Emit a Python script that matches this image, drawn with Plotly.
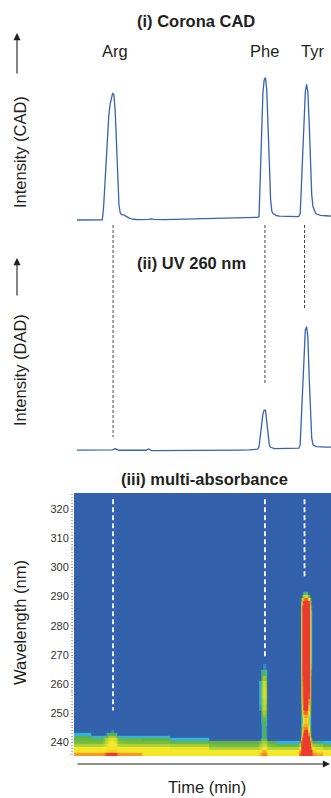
import plotly.graph_objects as go

# ---------------------------------------------------------------------------
# Chromatographic data (relative units, retention time in min)
# ---------------------------------------------------------------------------
time_min = [
    0.12, 0.5, 0.8, 1.0,
    1.05, 1.10, 1.15, 1.20, 1.25, 1.30, 1.35, 1.40, 1.45, 1.50, 1.55, 1.60, 1.65,
    1.70, 1.75, 1.80, 1.85, 1.90, 1.95, 2.00, 2.05, 2.10, 2.15, 2.20, 2.25, 2.30,
    2.5, 2.8, 2.9, 3.0, 3.1, 3.5, 4.0, 4.5, 5.0, 5.5, 6.0, 6.5, 6.8, 7.0, 7.1,
    7.15, 7.20, 7.25, 7.30, 7.35, 7.40, 7.45, 7.50, 7.55, 7.60, 7.65, 7.70, 7.75,
    7.80, 7.85, 7.90,
    8.0, 8.3, 8.5, 8.6, 8.7,
    8.75, 8.80, 8.85, 8.90, 8.95, 9.00, 9.05, 9.10, 9.15, 9.20, 9.25, 9.30, 9.35,
    9.40, 9.45, 9.50, 9.55, 9.60,
    9.8, 10.0,
]

cad_signal = [
    0.013, 0.013, 0.013, 0.013,
    0.013, 0.014, 0.092, 0.257, 0.421, 0.572, 0.691, 0.770, 0.816, 0.845, 0.839, 0.737, 0.533,
    0.283, 0.112, 0.059, 0.049, 0.047, 0.047, 0.040, 0.034, 0.030, 0.026, 0.023, 0.020, 0.018,
    0.016, 0.016, 0.017, 0.021, 0.017, 0.016, 0.018, 0.020, 0.022, 0.024, 0.026, 0.027, 0.028, 0.029, 0.030,
    0.031, 0.036, 0.322, 0.638, 0.849, 0.934, 0.951, 0.868, 0.678, 0.395, 0.145, 0.069, 0.056,
    0.049, 0.044, 0.041,
    0.039, 0.036, 0.035, 0.035, 0.036,
    0.038, 0.053, 0.243, 0.474, 0.724, 0.855, 0.905, 0.855, 0.658, 0.395, 0.178, 0.099, 0.076,
    0.059, 0.051, 0.047, 0.045, 0.043,
    0.041, 0.039,
]

dad_260nm = [
    0.023, 0.023, 0.023, 0.023,
    0.023, 0.023, 0.023, 0.022, 0.022, 0.022, 0.022, 0.022, 0.023, 0.024, 0.027, 0.029, 0.027,
    0.024, 0.022, 0.022, 0.022, 0.022, 0.021, 0.021, 0.021, 0.021, 0.021, 0.021, 0.021, 0.021,
    0.021, 0.022, 0.028, 0.022, 0.020, 0.020, 0.020, 0.020, 0.021, 0.021, 0.022, 0.023, 0.024, 0.025, 0.026,
    0.027, 0.039, 0.100, 0.150, 0.190, 0.209, 0.209, 0.155, 0.085, 0.047, 0.036, 0.033, 0.031,
    0.030, 0.030, 0.030,
    0.030, 0.030, 0.030, 0.031, 0.031,
    0.032, 0.047, 0.178, 0.318, 0.504, 0.581, 0.597, 0.550, 0.364, 0.178, 0.078, 0.047, 0.042,
    0.040, 0.039, 0.038, 0.038, 0.038,
    0.037, 0.037,
]

peak_names = ["Arg", "Phe", "Tyr"]
peak_marker_min = [1.52, 7.43, 8.97]
peak_windows_min = [(1.0, 2.3), (7.1, 7.9), (8.7, 9.6)]

# ---------------------------------------------------------------------------
# Multi-wavelength absorbance (DAD map)
# ---------------------------------------------------------------------------
wavelength_nm = [
    235, 236, 237, 238, 239, 240, 241, 242, 243, 244, 245, 246, 247, 248, 249, 250,
    252, 254, 256, 258, 260, 262, 264, 266, 268, 270, 272, 274, 276, 278, 280, 282,
    284, 286, 288, 289, 290, 291, 292, 296, 300, 305, 310, 315, 320, 326,
]
wavelength_ticks = [240, 250, 260, 270, 280, 290, 300, 310, 320]

# mobile-phase background at the short-wavelength end, per time segment
bg_wavelength_nm = [235, 236, 237, 238, 239, 240, 241, 242, 243, 244]
bg_start_min = [0.0, 0.8, 2.8, 3.6, 5.3, 7.9]
bg_absorbance = [
    [0.36, 0.34, 0.26, 0.24, 0.17, 0.13, 0.12, 0.11, 0.08, 0.03],
    [0.36, 0.34, 0.26, 0.24, 0.17, 0.13, 0.12, 0.08, 0.03, 0.0],
    [0.28, 0.26, 0.25, 0.23, 0.17, 0.13, 0.11, 0.08, 0.03, 0.0],
    [0.28, 0.26, 0.25, 0.22, 0.16, 0.12, 0.08, 0.03, 0.0, 0.0],
    [0.27, 0.25, 0.23, 0.17, 0.13, 0.11, 0.03, 0.0, 0.0, 0.0],
    [0.27, 0.25, 0.23, 0.17, 0.12, 0.08, 0.03, 0.0, 0.0, 0.0],
]

# absorbance at the peak apex for each analyte, on wavelength_nm
arg_absorbance = [
    0.15, 0.12, 0.03, 0.03, 0.07, 0.10, 0.09, 0.08, 0.08, 0.07, 0.03, 0.0, 0.0, 0.0, 0.0, 0.0,
    0.0, 0.0, 0.0, 0.0, 0.0, 0.0, 0.0, 0.0, 0.0, 0.0, 0.0, 0.0, 0.0, 0.0, 0.0, 0.0,
    0.0, 0.0, 0.0, 0.0, 0.0, 0.0, 0.0, 0.0, 0.0, 0.0, 0.0, 0.0, 0.0, 0.0,
]
phe_absorbance = [
    0.20, 0.12, 0.08, 0.06, 0.06, 0.06, 0.09, 0.10, 0.10, 0.10, 0.10, 0.105, 0.11, 0.12, 0.14, 0.16,
    0.18, 0.19, 0.20, 0.20, 0.19, 0.15, 0.11, 0.07, 0.0, 0.0, 0.0, 0.0, 0.0, 0.0, 0.0, 0.0,
    0.0, 0.0, 0.0, 0.0, 0.0, 0.0, 0.0, 0.0, 0.0, 0.0, 0.0, 0.0, 0.0, 0.0,
]
tyr_absorbance = [
    8.0, 5.0, 3.2, 2.2, 1.6, 1.2, 0.9, 0.7, 0.55, 0.45, 0.38, 0.33, 0.30, 0.30, 0.34, 0.40,
    0.50, 0.62, 0.70, 0.72, 0.74, 0.78, 0.82, 0.86, 0.90, 0.95, 1.0, 1.0, 1.0, 0.98, 0.95, 0.92,
    0.90, 0.85, 0.70, 0.40, 0.20, 0.10, 0.02, 0.0, 0.0, 0.0, 0.0, 0.0, 0.0, 0.0,
]
map_marker_top_nm = 323.4
map_marker_bottom_nm = [251.0, 269.5, 296.5]

# ---------------------------------------------------------------------------
# Build the absorbance map
# ---------------------------------------------------------------------------
def elution_profile(signal, window):
    t0, t1 = window
    idx = [j for j, t in enumerate(time_min) if t0 <= t <= t1]
    base = min(signal[j] for j in idx)
    top = max(signal[j] for j in idx)
    prof = [0.0] * len(time_min)
    for j in idx:
        prof[j] = max(0.0, (signal[j] - base) / (top - base))
    return prof


profiles = [
    elution_profile(cad_signal, peak_windows_min[0]),   # Arg: no UV band at 260 nm
    elution_profile(dad_260nm, peak_windows_min[1]),
    elution_profile(dad_260nm, peak_windows_min[2]),
]
spectra = [arg_absorbance, phe_absorbance, tyr_absorbance]


def background(wl, t):
    if wl not in bg_wavelength_nm:
        return 0.0
    seg = 0
    for s, start in enumerate(bg_start_min):
        if t >= start:
            seg = s
    return bg_absorbance[seg][bg_wavelength_nm.index(wl)]


z = []
for i, wl in enumerate(wavelength_nm):
    row = []
    for j, t in enumerate(time_min):
        v = background(wl, t)
        for spec, prof in zip(spectra, profiles):
            v += spec[i] * prof[j]
        row.append(v)
    z.append(row)

# ---------------------------------------------------------------------------
# Figure
# ---------------------------------------------------------------------------
W, H = 331, 798
FONT = "Liberation Sans, Arial, Helvetica, sans-serif"
INK = "#231f20"
LINE_BLUE = "#3563b5"


def px_x(p):
    return p / W


def px_y(p):
    return 1 - p / H


x_dom = [px_x(74), 1.0]
t_range = [0, 10]

Z_MAX = 0.5
jet_steps = [
    [0.0, "#3361ac"], [0.13, "#3361ac"], [0.15, "#2eb3e4"], [0.18, "#2eb3e4"],
    [0.20, "#5aae49"], [0.25, "#66b846"], [0.29, "#8dc63f"], [0.36, "#b8d535"],
    [0.46, "#f3ea28"], [0.54, "#f5e628"], [0.64, "#f6a323"], [0.72, "#f39222"],
    [0.84, "#eb3b2e"], [1.0, "#eb3b2e"],
]

fig = go.Figure()
fig.add_trace(go.Scatter(x=time_min, y=cad_signal, mode="lines",
                         line=dict(color=LINE_BLUE, width=1.3),
                         xaxis="x", yaxis="y", showlegend=False, hoverinfo="skip"))
fig.add_trace(go.Scatter(x=time_min, y=dad_260nm, mode="lines",
                         line=dict(color=LINE_BLUE, width=1.3),
                         xaxis="x2", yaxis="y2", showlegend=False, hoverinfo="skip"))
fig.add_trace(go.Heatmap(x=time_min, y=wavelength_nm, z=z, zmin=0, zmax=Z_MAX,
                         colorscale=jet_steps, showscale=False, zsmooth=False,
                         xaxis="x3", yaxis="y3", hoverinfo="skip"))

hidden_x = dict(domain=x_dom, range=t_range, visible=False, fixedrange=True)
fig.update_layout(
    width=W, height=H,
    margin=dict(l=0, r=0, t=0, b=0),
    paper_bgcolor="white", plot_bgcolor="white",
    font=dict(family=FONT, color=INK),
    xaxis=dict(**hidden_x, anchor="y"),
    xaxis2=dict(**hidden_x, anchor="y2"),
    xaxis3=dict(**hidden_x, anchor="y3"),
    yaxis=dict(domain=[px_y(222), px_y(70)], range=[0, 1], visible=False),
    yaxis2=dict(domain=[px_y(455), px_y(240)], range=[0, 1], visible=False),
    yaxis3=dict(domain=[px_y(756), px_y(493)], range=[235.4, 325.5],
                tickvals=wavelength_ticks, ticks="outside", ticklen=2,
                tickcolor="#9a9a9a", tickwidth=1, showgrid=False, zeroline=False,
                showline=False, tickfont=dict(size=11, color="#333", family=FONT),
                minor=dict(dtick=1, ticks="outside", ticklen=2, tickcolor="#b0b0b0", tickwidth=1),
                anchor="x3"),
)

shapes = []
guide_end_px = [437, 385, 309]
for t, end in zip(peak_marker_min, guide_end_px):
    shapes.append(dict(type="line", xref="x", yref="paper", x0=t, x1=t,
                       y0=px_y(225), y1=px_y(end),
                       line=dict(color="#444", width=1, dash="3px,2px")))
for t, bottom in zip(peak_marker_min, map_marker_bottom_nm):
    shapes.append(dict(type="line", xref="x3", yref="y3", x0=t, x1=t,
                       y0=map_marker_top_nm, y1=bottom,
                       line=dict(color="white", width=1.8, dash="5px,3px")))
fig.update_layout(shapes=shapes)

ann = []
# panel titles
for text, cx, cy in [("<b>(i) Corona CAD</b>", 195.5, 21),
                     ("<b>(ii) UV 260 nm</b>", 191, 263),
                     ("<b>(iii) multi-absorbance</b>", 205, 479)]:
    ann.append(dict(text=text, x=px_x(cx), y=px_y(cy), xref="paper", yref="paper",
                    showarrow=False, xanchor="center", yanchor="middle",
                    font=dict(size=16.5, color=INK)))
# peak labels
for name, t, dx in zip(peak_names, peak_marker_min, [2, 0, 8]):
    ann.append(dict(text=name, x=t, y=px_y(51), xref="x", yref="paper", xshift=dx,
                    showarrow=False, xanchor="center", yanchor="middle",
                    font=dict(size=16.5, color=INK)))
# rotated axis titles
for text, cy in [("Intensity (CAD)", 152), ("Intensity (DAD)", 370), ("Wavelength (nm)", 623)]:
    ann.append(dict(text=text, x=px_x(20), y=px_y(cy), xref="paper", yref="paper",
                    showarrow=False, textangle=-90, xanchor="center", yanchor="middle",
                    font=dict(size=16.5, color=INK)))
ann.append(dict(text="Time (min)", x=px_x(207), y=px_y(787), xref="paper", yref="paper",
                showarrow=False, xanchor="center", yanchor="middle",
                font=dict(size=16.5, color=INK)))
# direction arrows
for tip, tail in [(33, 75), (258, 297)]:
    ann.append(dict(text="", x=px_x(17), y=px_y(tip), xref="paper", yref="paper",
                    ax=0, ay=tail - tip, showarrow=True, arrowhead=2, arrowsize=1.3,
                    arrowwidth=1.1, arrowcolor=INK, standoff=0))
ann.append(dict(text="", x=px_x(330), y=px_y(764), xref="paper", yref="paper",
                ax=-254, ay=0, showarrow=True, arrowhead=2, arrowsize=1.3,
                arrowwidth=1.1, arrowcolor=INK, standoff=0))
fig.update_layout(annotations=ann)

fig.write_html("out.html")
